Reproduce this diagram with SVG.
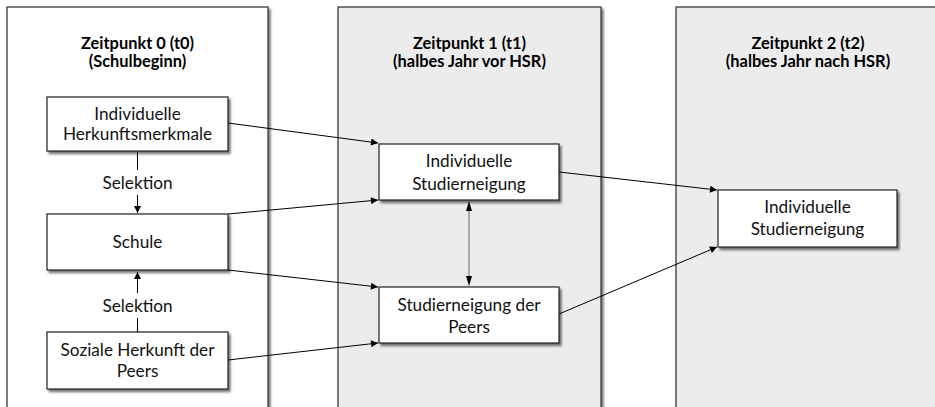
<svg xmlns="http://www.w3.org/2000/svg" width="935" height="407" viewBox="0 0 935 407">
<style>
.frame{stroke:#3a3a3a;stroke-width:1.3}
.f0{fill:#ffffff}
.f1{fill:#ececec}
.box{fill:#ffffff;stroke:#222;stroke-width:1.2}
.title{font-family:Lato,"Liberation Sans",sans-serif;font-size:16.4px;font-weight:bold;fill:#000;text-anchor:middle}
.lbl{font-family:Lato,"Liberation Sans",sans-serif;font-size:17.2px;fill:#111;text-anchor:middle}
.con{stroke:#000;stroke-width:1;fill:none}
.bi{stroke:#a8a8a8;stroke-width:2;fill:none}
</style>
<defs>
<filter id="sh" x="-10%" y="-10%" width="130%" height="140%">
<feDropShadow dx="2" dy="2.5" stdDeviation="1.2" flood-color="#000" flood-opacity="0.55"/>
</filter>
<marker id="ah" viewBox="0 0 10 10" refX="10" refY="5" markerWidth="10" markerHeight="7" markerUnits="userSpaceOnUse" orient="auto-start-reverse">
<path d="M0,0 L10,5 L0,10 z" fill="#000"/>
</marker>
</defs>
<g id="frame-t0">
<rect class="frame f0" x="7" y="7" width="261" height="420" filter="url(#sh)"/>
<text class="title" x="137.5" y="49">Zeitpunkt 0 (t0)</text>
<text class="title" x="137.5" y="67">(Schulbeginn)</text>
</g>
<g id="frame-t1">
<rect class="frame f1" x="338" y="7" width="263" height="420" filter="url(#sh)"/>
<text class="title" x="469.5" y="49">Zeitpunkt 1 (t1)</text>
<text class="title" x="469.5" y="67">(halbes Jahr vor HSR)</text>
</g>
<g id="frame-t2">
<rect class="frame f1" x="676" y="7" width="263" height="420" filter="url(#sh)"/>
<text class="title" x="808" y="49">Zeitpunkt 2 (t2)</text>
<text class="title" x="808" y="67">(halbes Jahr nach HSR)</text>
</g>
<g id="connectors">
<line class="con" x1="228" y1="123" x2="378" y2="143" marker-end="url(#ah)"/>
<line class="con" x1="228" y1="214" x2="378" y2="200" marker-end="url(#ah)"/>
<line class="con" x1="228" y1="270" x2="378" y2="287" marker-end="url(#ah)"/>
<line class="con" x1="228" y1="360" x2="378" y2="343" marker-end="url(#ah)"/>
<line class="con" x1="559" y1="172" x2="717" y2="190" marker-end="url(#ah)"/>
<line class="con" x1="559" y1="314" x2="717" y2="247" marker-end="url(#ah)"/>
<line class="bi" x1="469" y1="211" x2="469" y2="277"/>
<path d="M469,201 L466,211 L472,211 z" fill="#000"/>
<path d="M469,286 L466,276 L472,276 z" fill="#000"/>
<line class="con" x1="137.5" y1="152" x2="137.5" y2="170"/>
<line class="con" x1="137.5" y1="195" x2="137.5" y2="213" marker-end="url(#ah)"/>
<line class="con" x1="137.5" y1="332" x2="137.5" y2="318"/>
<line class="con" x1="137.5" y1="293" x2="137.5" y2="272" marker-end="url(#ah)"/>
<text class="lbl" x="137.5" y="189">Selektion</text>
<text class="lbl" x="137.5" y="312">Selektion</text>
</g>
<g id="node-herkunft">
<rect class="box" x="47" y="97" width="181" height="54" filter="url(#sh)"/>
<text class="lbl" x="137.5" y="120">Individuelle</text>
<text class="lbl" x="137.5" y="140">Herkunftsmerkmale</text>
</g>
<g id="node-schule">
<rect class="box" x="47" y="214" width="181" height="56" filter="url(#sh)"/>
<text class="lbl" x="137.5" y="248">Schule</text>
</g>
<g id="node-soziale">
<rect class="box" x="47" y="332" width="181" height="57" filter="url(#sh)"/>
<text class="lbl" x="137.5" y="356">Soziale Herkunft der</text>
<text class="lbl" x="137.5" y="377">Peers</text>
</g>
<g id="node-t1-individuell">
<rect class="box" x="379" y="144" width="180" height="56" filter="url(#sh)"/>
<text class="lbl" x="469" y="167">Individuelle</text>
<text class="lbl" x="469" y="190">Studierneigung</text>
</g>
<g id="node-t1-peers">
<rect class="box" x="379" y="287" width="180" height="56" filter="url(#sh)"/>
<text class="lbl" x="469" y="311">Studierneigung der</text>
<text class="lbl" x="469" y="333">Peers</text>
</g>
<g id="node-t2-individuell">
<rect class="box" x="718" y="190" width="179" height="57" filter="url(#sh)"/>
<text class="lbl" x="807.5" y="213">Individuelle</text>
<text class="lbl" x="807.5" y="235">Studierneigung</text>
</g>
</svg>
